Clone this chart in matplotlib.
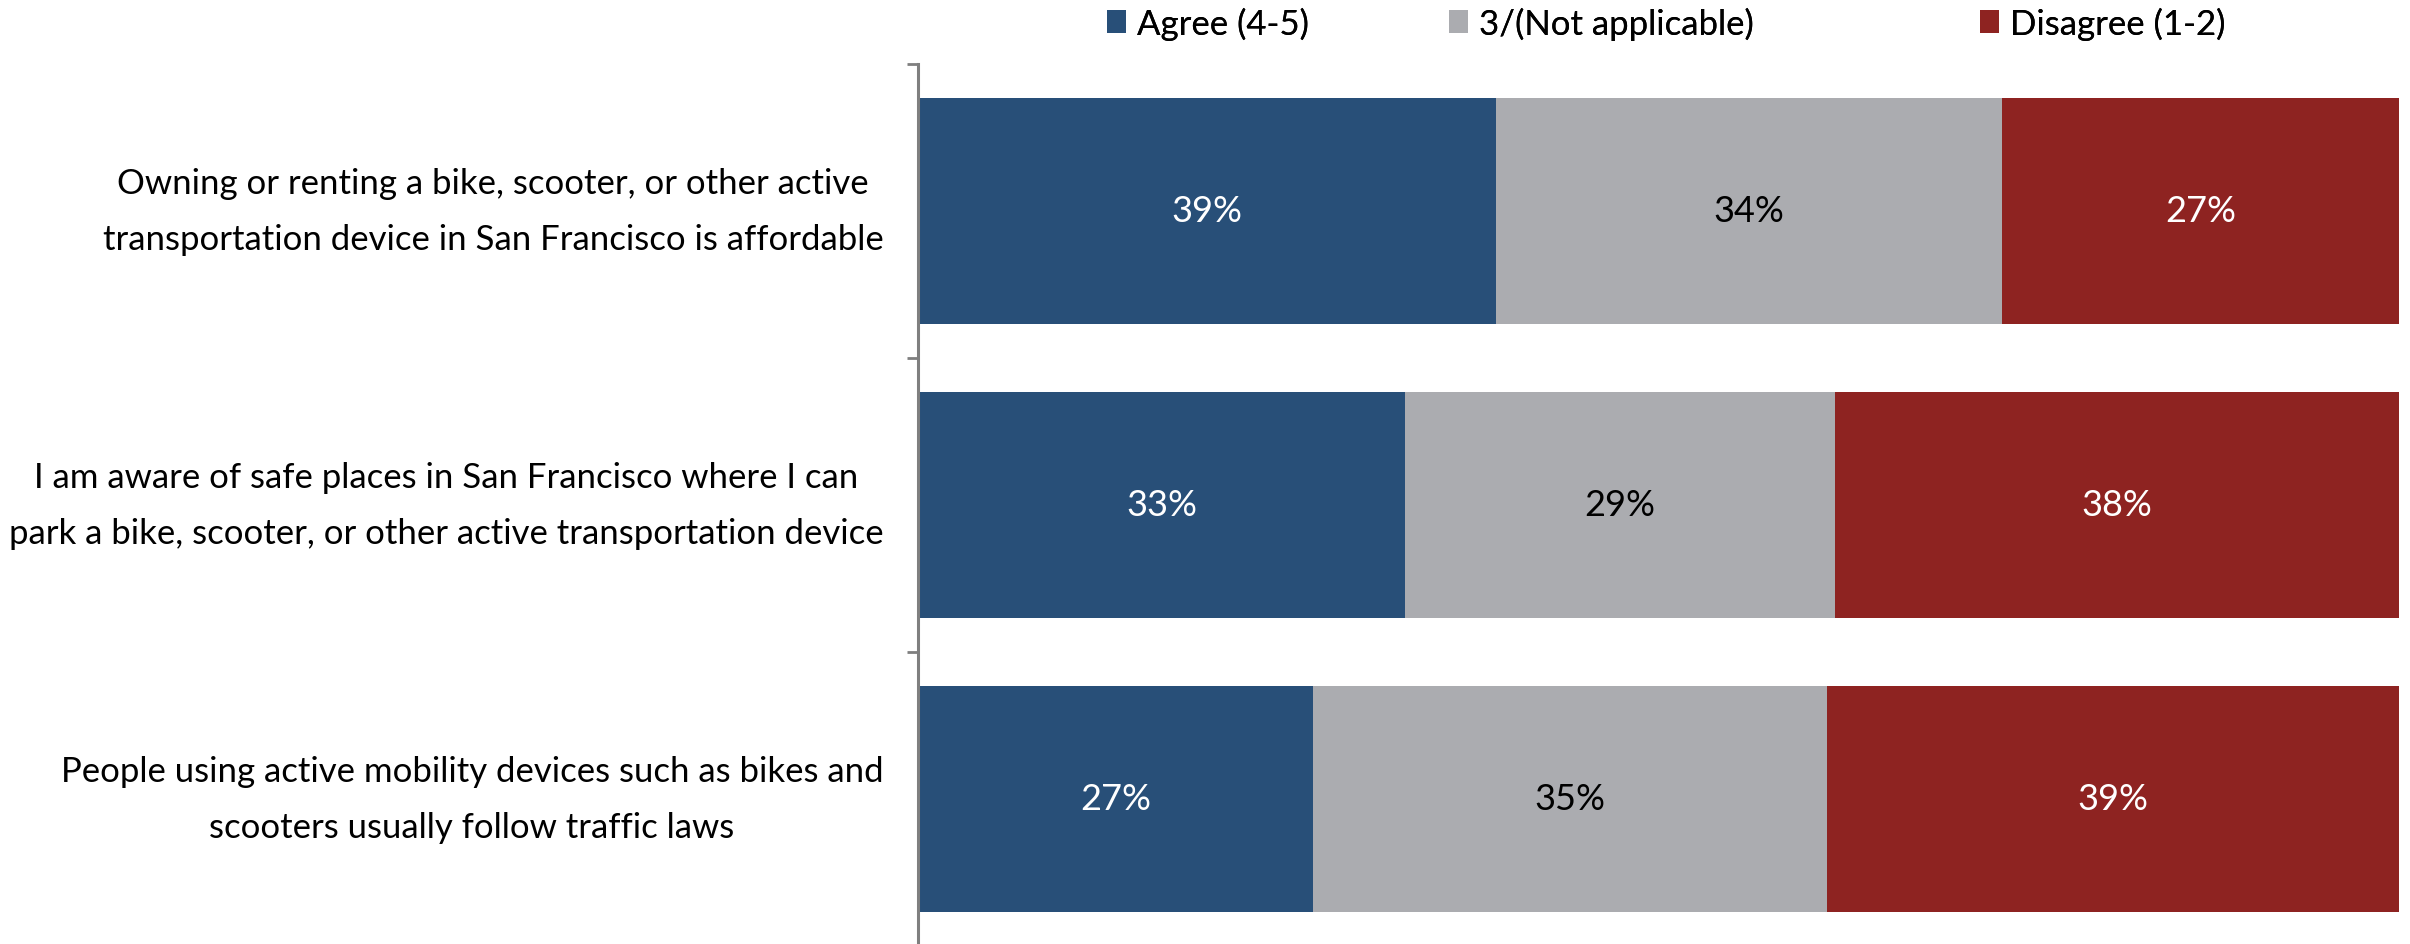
import numpy as np
import matplotlib.pyplot as plt

plt.rcParams['font.family'] = ['Lato', 'DejaVu Sans']

# data (percent)
statements = [
    'Owning or renting a bike, scooter, or other active\ntransportation device in San Francisco is affordable',
    'I am aware of safe places in San Francisco where I can\npark a bike, scooter, or other active transportation device',
    'People using active mobility devices such as bikes and\nscooters usually follow traffic laws',
]
series_names = ['Agree (4-5)', '3/(Not applicable)', 'Disagree (1-2)']
agree = [39.0, 32.9, 26.7]
neutral = [34.2, 29.0, 34.7]
disagree = [26.8, 38.1, 38.6]

colors = ['#284f78', '#abacb0', '#8e2321']
text_colors = ['white', 'black', 'white']

fig = plt.figure(figsize=(24.10, 9.45), dpi=100)
ax = fig.add_axes([918/2410, -2/945, (2399-918)/2410, (947-65)/945])

y = np.arange(len(statements))
left = np.zeros(len(statements))
containers = []
for vals, name, c, tc in zip([agree, neutral, disagree], series_names, colors, text_colors):
    vals = np.array(vals)
    bars = ax.barh(y, vals, left=left, height=0.77, color=c, label=name)
    containers.append(bars)
    for yi, l, v in zip(y, left, vals):
        ax.text(l + v/2, yi, f'{v:.0f}%', ha='center', va='center',
                color=tc, fontsize=26)
    left += vals

ax.set_xlim(0, 100)
ax.set_ylim(2.5, -0.5)
ax.set_xticks([])
ax.set_yticks(y)
ax.set_yticklabels(statements, fontsize=25, ha='right', va='center',
                   multialignment='center', linespacing=1.95)
ax.tick_params(axis='y', length=0, pad=25)
ax.set_yticks([-0.5, 0.5, 1.5, 2.5], minor=True)
ax.tick_params(axis='y', which='minor', length=8, width=2, color='#7f7f7f', direction='out')
for s in ['top', 'right', 'bottom']:
    ax.spines[s].set_visible(False)
ax.spines['left'].set_color('#7f7f7f')
ax.spines['left'].set_linewidth(2.2)

# legend entries are spaced unevenly in the original, so one legend per entry
legend_x = [1107/2410, 1449/2410, 1980/2410]
for bars, name, lx in zip(containers, series_names, legend_x):
    leg = fig.legend([bars], [name], loc='center left', bbox_to_anchor=(lx, 1 - 24/945),
                     frameon=False, fontsize=25, handlelength=0.55, handleheight=0.65,
                     handletextpad=0.3, borderpad=0, borderaxespad=0)
    fig.add_artist(leg)

fig.savefig('out.png', dpi=100)
